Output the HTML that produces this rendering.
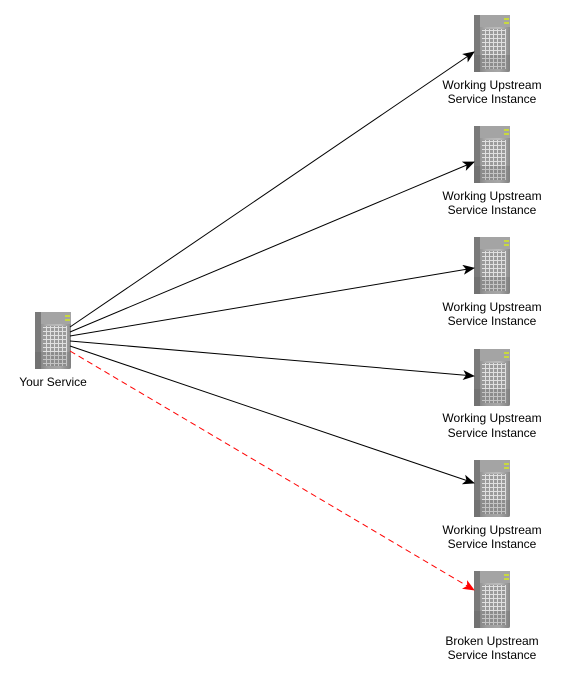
<!DOCTYPE html>
<html><head><meta charset="utf-8"><style>
html,body{margin:0;padding:0;background:#fff;}
svg{display:block;}
text{font-family:"Liberation Sans",sans-serif;font-size:12px;fill:#000;}
</style></head><body>
<svg width="563" height="679" viewBox="0 0 563 679" xmlns="http://www.w3.org/2000/svg">
<defs>
<linearGradient id="body" x1="0" x2="1" y1="0" y2="0">
<stop offset="0" stop-color="#7a7a7a"/><stop offset="0.35" stop-color="#b0b0b0"/><stop offset="0.7" stop-color="#bcbcbc"/><stop offset="1" stop-color="#8a8a8a"/>
</linearGradient>
<pattern id="grid" width="4" height="4" patternUnits="userSpaceOnUse">
<rect width="4" height="4" fill="#e0e0e0"/><rect width="3" height="3" fill="#9a9a9a"/>
</pattern>
<g id="srv">
<rect x="0" y="0" width="36" height="57" rx="2" fill="url(#body)"/>
<rect x="0" y="0" width="36" height="12" fill="#a4a4a4"/>
<rect x="0" y="0" width="6" height="57" fill="#7a7a7a"/>
<rect x="8" y="14" width="24" height="40" fill="url(#grid)"/>
<rect x="30" y="3" width="5" height="2" fill="#c8d840"/>
<rect x="30" y="7" width="5" height="2" fill="#c8d840"/>
<rect x="0" y="40" width="36" height="17" fill="#555" opacity="0.2"/>
</g>
<marker id="ab" markerWidth="12" markerHeight="10" refX="11" refY="5" orient="auto" markerUnits="userSpaceOnUse"><path d="M0,0 L12,5 L0,10 L3,5Z" fill="#000"/></marker>
<marker id="ar" markerWidth="12" markerHeight="10" refX="11" refY="5" orient="auto" markerUnits="userSpaceOnUse"><path d="M0,0 L12,5 L0,10 L3,5Z" fill="#f00"/></marker>
</defs>
<use href="#srv" x="35" y="312"/>
<use href="#srv" x="474" y="15"/>
<use href="#srv" x="474" y="126"/>
<use href="#srv" x="474" y="237"/>
<use href="#srv" x="474" y="349"/>
<use href="#srv" x="474" y="460"/>
<use href="#srv" x="474" y="571"/>
<g stroke="#000" stroke-width="1" fill="none">
<line x1="70" y1="327" x2="474" y2="52" marker-end="url(#ab)"/>
<line x1="70" y1="332" x2="474" y2="162" marker-end="url(#ab)"/>
<line x1="70" y1="336" x2="474" y2="268" marker-end="url(#ab)"/>
<line x1="70" y1="341" x2="474" y2="376" marker-end="url(#ab)"/>
<line x1="70" y1="346" x2="474" y2="483" marker-end="url(#ab)"/>
</g>
<line x1="70" y1="351" x2="474" y2="590" stroke="#f00" stroke-width="1" stroke-dasharray="6,4" marker-end="url(#ar)"/>
<text x="53" y="386" text-anchor="middle">Your Service</text>
<g text-anchor="middle">
<text x="492" y="89">Working Upstream</text><text x="492" y="103">Service Instance</text>
<text x="492" y="200">Working Upstream</text><text x="492" y="214">Service Instance</text>
<text x="492" y="311">Working Upstream</text><text x="492" y="325">Service Instance</text>
<text x="492" y="422">Working Upstream</text><text x="492" y="437">Service Instance</text>
<text x="492" y="534">Working Upstream</text><text x="492" y="548">Service Instance</text>
<text x="492" y="645">Broken Upstream</text><text x="492" y="659">Service Instance</text>
</g>
</svg>
</body></html>
